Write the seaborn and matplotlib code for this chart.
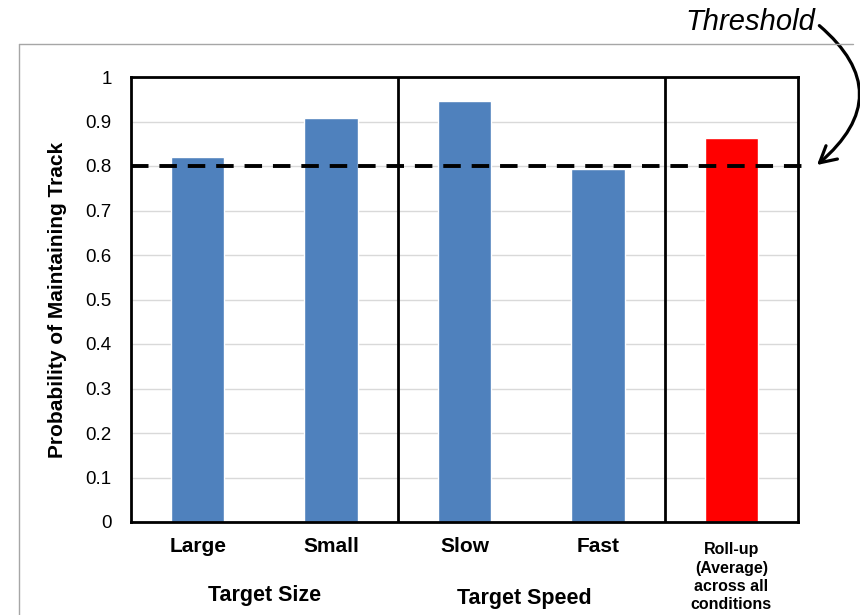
import matplotlib
matplotlib.use("Agg")
import matplotlib.pyplot as plt
import seaborn as sns
import pandas as pd
from matplotlib.lines import Line2D
from matplotlib.transforms import ScaledTranslation

# Probability of maintaining track per condition
categories = ["Large", "Small", "Slow", "Fast",
              "Roll-up\n(Average)\nacross all\nconditions"]
probabilities = [0.82, 0.908, 0.946, 0.793, 0.862]
bar_colors = ["#4F81BD", "#4F81BD", "#4F81BD", "#4F81BD", "#FF0000"]
group_labels = ["Target Size", "Target Speed"]
threshold = 0.8
y_ticks = [0, 0.1, 0.2, 0.3, 0.4, 0.5, 0.6, 0.7, 0.8, 0.9, 1.0]
y_tick_labels = ["0", "0.1", "0.2", "0.3", "0.4", "0.5", "0.6", "0.7", "0.8", "0.9", "1"]

sns.set_theme(style="white")
plt.rcParams["font.family"] = ["Liberation Sans", "DejaVu Sans"]
plt.rcParams["text.color"] = "black"
plt.rcParams["axes.labelcolor"] = "black"
plt.rcParams["xtick.color"] = "black"
plt.rcParams["ytick.color"] = "black"

df = pd.DataFrame({"condition": categories, "prob": probabilities})

fig = plt.figure(figsize=(8.6, 6.15), dpi=100)
ax = fig.add_axes([131 / 860, 1 - 522 / 615, 667 / 860, 445 / 615])

sns.barplot(data=df, x="condition", y="prob", hue="condition",
            palette=bar_colors, width=0.4, legend=False, ax=ax,
            saturation=1, zorder=3)

ax.set_xlim(-0.5, 4.5)
ax.set_ylim(0, 1)
ax.set_yticks(y_ticks)
ax.set_yticklabels(y_tick_labels)
ax.yaxis.grid(True, color="#D9D9D9", lw=1, zorder=0)
ax.set_axisbelow(True)
ax.tick_params(axis="y", length=0, pad=14, labelsize=13.5, labelcolor="black")
ax.tick_params(axis="x", length=0, pad=11, labelcolor="black")

for s in ax.spines.values():
    s.set_color("black")
    s.set_linewidth(2)
    s.set_zorder(5)

# x tick labels: bold categories, smaller multi-line roll-up label
ax.set_xticks(range(len(categories)))
ax.set_xticklabels(categories)
for i, lbl in enumerate(ax.get_xticklabels()):
    lbl.set_fontweight("bold")
    if i == len(categories) - 1:
        lbl.set_fontsize(11.5)
        lbl.set_linespacing(1.28)
        lbl.set_transform(lbl.get_transform()
                          + ScaledTranslation(0, -0.05, fig.dpi_scale_trans))
    else:
        lbl.set_fontsize(15)

ax.set_xlabel("")
ax.set_ylabel("Probability of Maintaining Track", fontsize=15,
              fontweight="bold", labelpad=13, color="black")

# separators between condition groups
for xpos in [1.5, 3.5]:
    ax.axvline(xpos, color="black", lw=2, zorder=4)

# threshold line
ax.plot([-0.5, 4.55], [threshold, threshold], color="black", lw=2.8,
        ls=(0, (4.5, 2.8)), clip_on=False, zorder=6)

# group labels
ax.text(0.5, -0.166, group_labels[0], transform=ax.get_xaxis_transform(),
        ha="center", va="center", fontsize=15.5, fontweight="bold")
ax.text(2.45, -0.171, group_labels[1], transform=ax.get_xaxis_transform(),
        ha="center", va="center", fontsize=15.5, fontweight="bold")

# outer grey frame
fig.add_artist(Line2D([19 / 860, 19 / 860], [0, 1 - 44 / 615],
                      transform=fig.transFigure, color="#A6A6A6", lw=1))
fig.add_artist(Line2D([19 / 860, 853 / 860], [1 - 44 / 615, 1 - 44 / 615],
                      transform=fig.transFigure, color="#A6A6A6", lw=1))

# threshold annotation with curved arrow
ax.annotate("Threshold", xy=(817 / 860, 1 - 165 / 615), xycoords="figure fraction",
            xytext=(815 / 860, 1 - 22 / 615), textcoords="figure fraction",
            ha="right", va="center", fontsize=21, fontstyle="italic",
            arrowprops=dict(arrowstyle="->,head_length=0.55,head_width=0.3",
                            connectionstyle="arc3,rad=-0.6", color="black",
                            lw=2.3, shrinkA=1, shrinkB=0, relpos=(1, 0.5)),
            annotation_clip=False)

fig.savefig("out.png", dpi=100, facecolor="white")
